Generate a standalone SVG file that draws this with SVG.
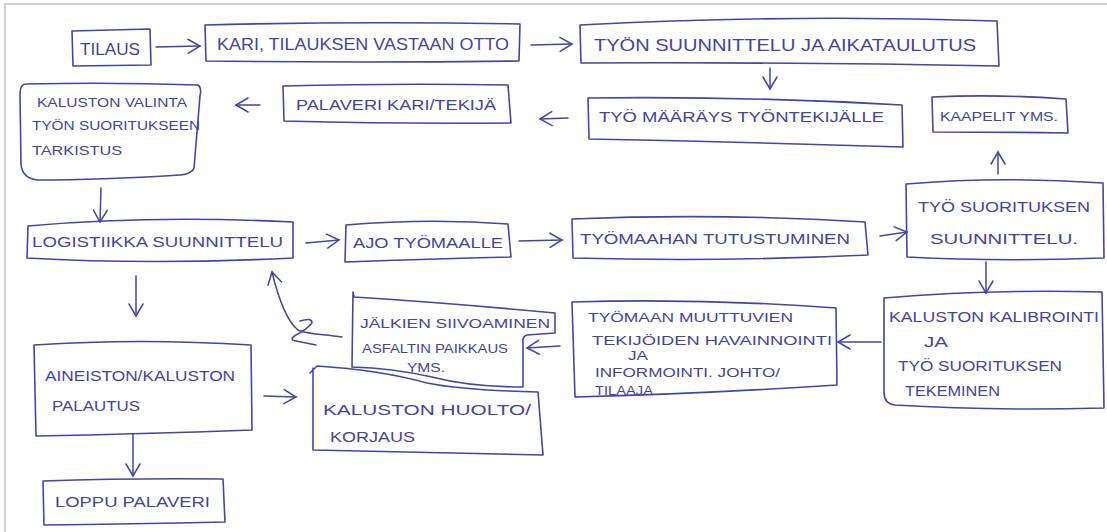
<svg xmlns="http://www.w3.org/2000/svg" width="1107" height="532" viewBox="0 0 1107 532">
<defs>
<style>
.b{fill:none;stroke:#4545a2;stroke-width:1.6;stroke-linejoin:round;stroke-linecap:round}
.c{fill:none;stroke:#4545a2;stroke-width:1.5;stroke-linecap:round}
.t{font-family:"Liberation Sans",Arial,sans-serif;fill:#4444a0;font-size:15px}
.s{font-size:13px}
.l{font-size:17px}
</style>
<marker id="ah" viewBox="0 0 20 20" refX="18" refY="10" markerWidth="20" markerHeight="20" markerUnits="userSpaceOnUse" orient="auto">
<path d="M6,3 L18,10 L6,17" fill="none" stroke="#4545a2" stroke-width="1.5" stroke-linecap="round"/>
</marker>
</defs>
<rect width="1107" height="532" fill="#fff"/>
<path d="M5,532 V4 H1107" fill="none" stroke="#cfcfcf" stroke-width="2"/>

<g id="n-tilaus"><path class="b" d="M72,31 L150,29 L151,65 L73,66 Z"/><text class="t l" x="80" y="55" textLength="60" lengthAdjust="spacingAndGlyphs">TILAUS</text></g>
<g id="n-kari"><path class="b" d="M205,25 Q360,21 520,24 L519,61 Q360,63 206,61 Z"/><text class="t l" x="217" y="50" textLength="292" lengthAdjust="spacingAndGlyphs">KARI, TILAUKSEN VASTAAN OTTO</text></g>
<g id="n-tyon-suunnittelu"><path class="b" d="M580,25 Q790,14 997,21 L999,66 Q790,62 581,63 Z"/><text class="t l" x="594" y="51" textLength="382" lengthAdjust="spacingAndGlyphs">TYÖN SUUNNITTELU JA AIKATAULUTUS</text></g>
<g id="n-tyomaarays"><path class="b" d="M588,98 Q745,96 902,105 L903,147 Q745,142 589,139 Z"/><text class="t" x="599" y="122" textLength="285" lengthAdjust="spacingAndGlyphs">TYÖ MÄÄRÄYS TYÖNTEKIJÄLLE</text></g>
<g id="n-palaveri"><path class="b" d="M283,86 Q400,83 508,85 L511,123 Q400,124 284,121 Z"/><text class="t" x="296" y="110" textLength="200" lengthAdjust="spacingAndGlyphs">PALAVERI KARI/TEKIJÄ</text></g>
<g id="n-valinta"><path class="b" d="M26,84 Q110,82 198,85 Q202,88 200,96 L194,168 Q192,174 180,175 Q100,180 37,180 Q22,178 21,164 L20,94 Q20,84 26,84 Z"/><text class="t s" x="37" y="107" textLength="150" lengthAdjust="spacingAndGlyphs">KALUSTON VALINTA</text><text class="t s" x="32" y="130" textLength="168" lengthAdjust="spacingAndGlyphs">TYÖN SUORITUKSEEN</text><text class="t s" x="32" y="155" textLength="90" lengthAdjust="spacingAndGlyphs">TARKISTUS</text></g>
<g id="n-logistiikka"><path class="b" d="M28,226 Q150,215 293,222 L293,258 Q150,265 27,258 Z"/><text class="t" x="32" y="247" textLength="251" lengthAdjust="spacingAndGlyphs">LOGISTIIKKA SUUNNITTELU</text></g>
<g id="n-ajo"><path class="b" d="M346,225 Q430,218 508,224 L511,257 Q430,259 345,262 Z"/><text class="t" x="353" y="248" textLength="150" lengthAdjust="spacingAndGlyphs">AJO TYÖMAALLE</text></g>
<g id="n-tutustuminen"><path class="b" d="M572,219 Q720,213 865,222 L868,255 Q720,262 573,258 Z"/><text class="t" x="580" y="244" textLength="270" lengthAdjust="spacingAndGlyphs">TYÖMAAHAN TUTUSTUMINEN</text></g>
<g id="n-suoritus-suunnittelu"><path class="b" d="M906,184 Q1000,176 1103,183 L1104,258 Q1000,262 907,257 Z"/><text class="t" x="918" y="212" textLength="172" lengthAdjust="spacingAndGlyphs">TYÖ SUORITUKSEN</text><text class="t" x="930" y="244" textLength="148" lengthAdjust="spacingAndGlyphs">SUUNNITTELU.</text></g>
<g id="n-kaapelit"><path class="b" d="M932,97 Q1000,94 1066,99 L1068,133 Q1000,132 933,132 Z"/><text class="t s" x="940" y="121" textLength="118" lengthAdjust="spacingAndGlyphs">KAAPELIT YMS.</text></g>
<g id="n-kalibrointi"><path class="b" d="M884,298 Q990,289 1102,292 L1104,408 Q990,411 895,405 Q884,404 884,392 Z"/><text class="t" x="889" y="322" textLength="210" lengthAdjust="spacingAndGlyphs">KALUSTON KALIBROINTI</text><text class="t" x="924" y="347" textLength="24" lengthAdjust="spacingAndGlyphs">JA</text><text class="t" x="898" y="371" textLength="164" lengthAdjust="spacingAndGlyphs">TYÖ SUORITUKSEN</text><text class="t" x="905" y="396" textLength="95" lengthAdjust="spacingAndGlyphs">TEKEMINEN</text></g>
<g id="n-muuttuvat"><path class="b" d="M572,302 Q700,298 836,308 L837,385 Q700,394 575,397 Z"/><text class="t s" x="588" y="322" textLength="205" lengthAdjust="spacingAndGlyphs">TYÖMAAN MUUTTUVIEN</text><text class="t s" x="592" y="345" textLength="240" lengthAdjust="spacingAndGlyphs">TEKIJÖIDEN HAVAINNOINTI</text><text class="t s" x="628" y="360" textLength="20" lengthAdjust="spacingAndGlyphs">JA</text><text class="t s" x="595" y="377" textLength="185" lengthAdjust="spacingAndGlyphs">INFORMOINTI. JOHTO/</text><text class="t s" x="595" y="395" textLength="58" lengthAdjust="spacingAndGlyphs">TILAAJA</text></g>
<g id="n-jalkien"><path class="b" d="M353,292 L354,297 Q450,303 555,313 L555,333 L527,335 Q522,337 523,342 L523,387 Q470,387 432,377 Q392,368 352,367 Z"/><text class="t s" x="360" y="328" textLength="190" lengthAdjust="spacingAndGlyphs">JÄLKIEN SIIVOAMINEN</text><text class="t s" x="362" y="353" textLength="146" lengthAdjust="spacingAndGlyphs">ASFALTIN PAIKKAUS</text><text class="t s" x="407" y="372" textLength="38" lengthAdjust="spacingAndGlyphs">YMS.</text></g>
<g id="n-palautus"><path class="b" d="M34,345 Q140,338 251,345 L252,430 Q140,434 36,436 Z"/><text class="t" x="45" y="381" textLength="190" lengthAdjust="spacingAndGlyphs">AINEISTON/KALUSTON</text><text class="t" x="52" y="411" textLength="88" lengthAdjust="spacingAndGlyphs">PALAUTUS</text></g>
<g id="n-huolto"><path class="b" d="M310,373 L317,366 Q380,370 427,383 Q460,390 538,392 L543,455 Q420,452 313,450 L313,368"/><text class="t" x="323" y="415" font-size="19" textLength="208" lengthAdjust="spacingAndGlyphs">KALUSTON HUOLTO/</text><text class="t" x="330" y="442" font-size="17" textLength="85" lengthAdjust="spacingAndGlyphs">KORJAUS</text></g>
<g id="n-loppu"><path class="b" d="M43,481 Q130,478 223,479 L225,522 Q130,524 44,525 Z"/><text class="t" x="55" y="507" textLength="155" lengthAdjust="spacingAndGlyphs">LOPPU PALAVERI</text></g>

<g id="connectors">
<path class="c" marker-end="url(#ah)" d="M156,47 L200,46"/>
<path class="c" marker-end="url(#ah)" d="M531,45 L572,44"/>
<path class="c" marker-end="url(#ah)" d="M770,68 L770,89"/>
<path class="c" marker-end="url(#ah)" d="M568,118 L540,119"/>
<path class="c" marker-end="url(#ah)" d="M260,105 L236,105"/>
<path class="c" marker-end="url(#ah)" d="M101,188 L100,222"/>
<path class="c" marker-end="url(#ah)" d="M306,243 L339,240"/>
<path class="c" marker-end="url(#ah)" d="M519,241 L562,240"/>
<path class="c" marker-end="url(#ah)" d="M880,236 L907,232"/>
<path class="c" marker-end="url(#ah)" d="M998,174 L998,152"/>
<path class="c" marker-end="url(#ah)" d="M986,262 L986,293"/>
<path class="c" marker-end="url(#ah)" d="M881,342 L838,342"/>
<path class="c" marker-end="url(#ah)" d="M560,346 L527,348"/>
<path class="c" marker-end="url(#ah)" d="M342,337 C320,334 305,334 298,330 C288,322 280,305 272,272"/>
<path class="c" d="M300,321 Q312,317 312,323 Q306,330 296,335 Q288,340 296,341 L316,345"/>
<path class="c" marker-end="url(#ah)" d="M136,276 L136,316"/>
<path class="c" marker-end="url(#ah)" d="M264,396 L296,397"/>
<path class="c" marker-end="url(#ah)" d="M133,434 L133,476"/>
</g>
</svg>
